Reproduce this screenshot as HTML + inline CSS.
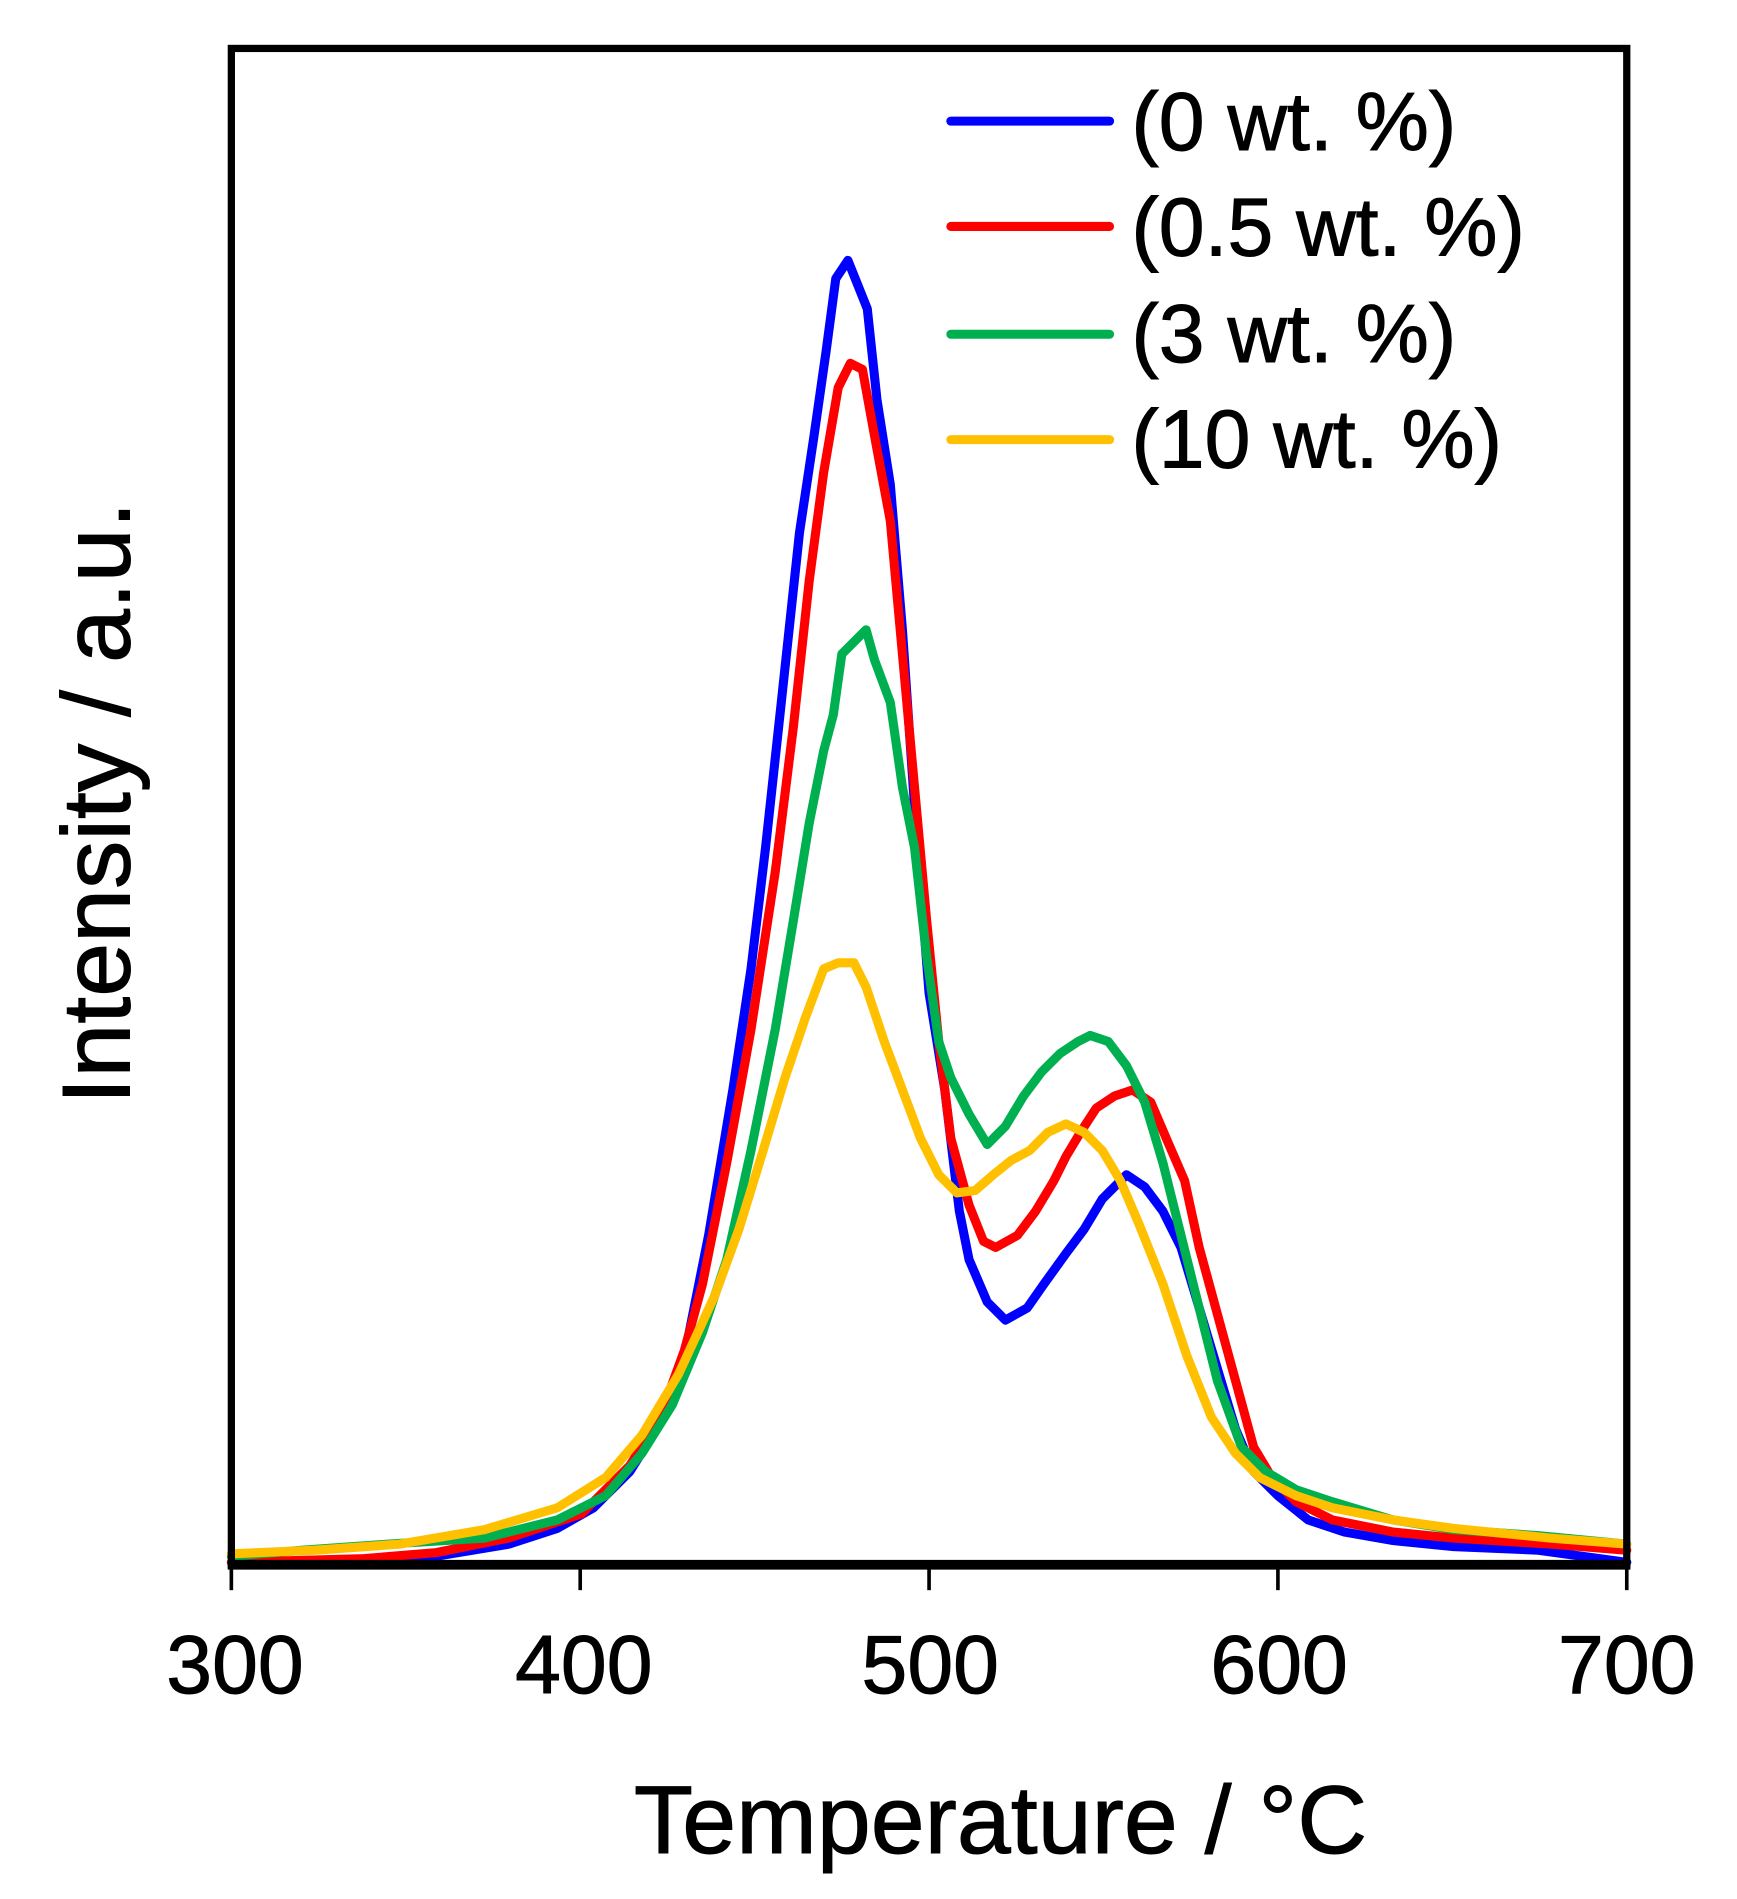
<!DOCTYPE html>
<html><head><meta charset="utf-8"><style>
html,body{margin:0;padding:0;background:#fff;}
svg{display:block;}
text{font-family:"Liberation Sans",Arial,sans-serif;fill:#000;}
</style></head><body>
<svg width="1737" height="1899" viewBox="0 0 1434 1568" preserveAspectRatio="none" xmlns="http://www.w3.org/2000/svg">
<rect width="1434" height="1568" fill="#fff"/>
<g fill="none" stroke-width="7.5" stroke-linejoin="round" stroke-linecap="round">
<polyline stroke="#0000ff" points="191,1290 300,1289 360,1285 420,1275 460,1262 490,1245 520,1215 545,1175 565,1120 585,1020 605,900 620,800 632,700 645,580 660,440 672,360 682,290 690,230 700,215 708,235 716,255 724,330 735,400 745,520 756,680 767,820 780,900 792,1000 800,1040 815,1075 830,1090 848,1080 862,1060 880,1035 895,1015 910,990 930,970 945,980 960,1000 975,1030 990,1080 1005,1130 1020,1180 1035,1215 1055,1235 1080,1255 1110,1265 1150,1272 1200,1277 1270,1280 1343,1290"/>
<polyline stroke="#ff0000" points="191,1290 300,1287 360,1282 420,1270 480,1250 520,1210 545,1170 565,1115 580,1060 600,960 620,850 640,720 655,600 668,480 680,390 692,320 702,300 712,305 722,360 735,430 745,540 755,650 765,760 775,860 785,940 800,995 812,1025 822,1030 840,1020 855,1000 870,975 880,955 892,935 905,915 920,905 935,900 950,910 965,945 978,975 990,1030 1005,1085 1020,1140 1035,1195 1050,1220 1070,1240 1100,1255 1150,1265 1200,1270 1280,1275 1343,1280"/>
<polyline stroke="#00b050" points="191,1285 250,1280 320,1275 400,1270 460,1255 500,1235 530,1200 555,1160 580,1100 600,1040 620,950 640,850 655,760 668,680 680,620 688,590 695,540 705,530 715,520 722,545 735,580 745,650 755,700 765,790 775,860 785,890 800,920 815,945 830,930 845,905 860,885 875,870 890,860 900,855 915,860 930,880 945,910 960,960 975,1020 990,1080 1005,1140 1025,1195 1045,1215 1070,1230 1100,1240 1150,1255 1200,1263 1270,1268 1343,1275"/>
<polyline stroke="#ffc000" points="191,1283 260,1280 330,1275 400,1263 460,1245 500,1220 530,1185 560,1135 590,1070 610,1015 630,950 648,890 665,840 680,800 692,795 705,795 715,815 730,860 745,900 760,940 775,970 790,985 805,983 820,970 835,958 850,950 865,935 880,928 895,935 910,950 925,975 940,1010 960,1060 980,1120 1000,1170 1020,1200 1040,1220 1070,1235 1100,1245 1150,1255 1200,1262 1280,1270 1343,1275"/>
</g>
<rect x="191" y="40" width="1152" height="1252" fill="none" stroke="#000" stroke-width="6"/>
<line x1="188" y1="1292" x2="1346" y2="1292" stroke="#000" stroke-width="8"/>
<g stroke="#000" stroke-width="3">
<line x1="191" y1="1292" x2="191" y2="1313"/><line x1="479" y1="1292" x2="479" y2="1313"/><line x1="767" y1="1292" x2="767" y2="1313"/><line x1="1055" y1="1292" x2="1055" y2="1313"/><line x1="1343" y1="1292" x2="1343" y2="1313"/>
</g>
<g font-size="68" text-anchor="middle" stroke="#000" stroke-width="0.8">
<text x="194" y="1398">300</text><text x="482" y="1398">400</text><text x="768" y="1398">500</text><text x="1056" y="1398">600</text><text x="1343" y="1398">700</text>
</g>
<text x="826" y="1530" font-size="80" text-anchor="middle" stroke="#000" stroke-width="0.8">Temperature / °C</text>
<text transform="translate(107,663) rotate(-90)" font-size="80" text-anchor="middle" stroke="#000" stroke-width="0.8">Intensity / a.u.</text>
<g stroke-width="7.5" stroke-linecap="round">
<line x1="785" y1="100" x2="916" y2="100" stroke="#0000ff"/>
<line x1="785" y1="187" x2="916" y2="187" stroke="#ff0000"/>
<line x1="785" y1="276" x2="916" y2="276" stroke="#00b050"/>
<line x1="785" y1="363" x2="916" y2="363" stroke="#ffc000"/>
</g>
<g font-size="68" stroke="#000" stroke-width="0.8">
<text x="934" y="124">(0 wt. %)</text>
<text x="934" y="211">(0.5 wt. %)</text>
<text x="934" y="299">(3 wt. %)</text>
<text x="934" y="386">(10 wt. %)</text>
</g>
</svg>
</body></html>
